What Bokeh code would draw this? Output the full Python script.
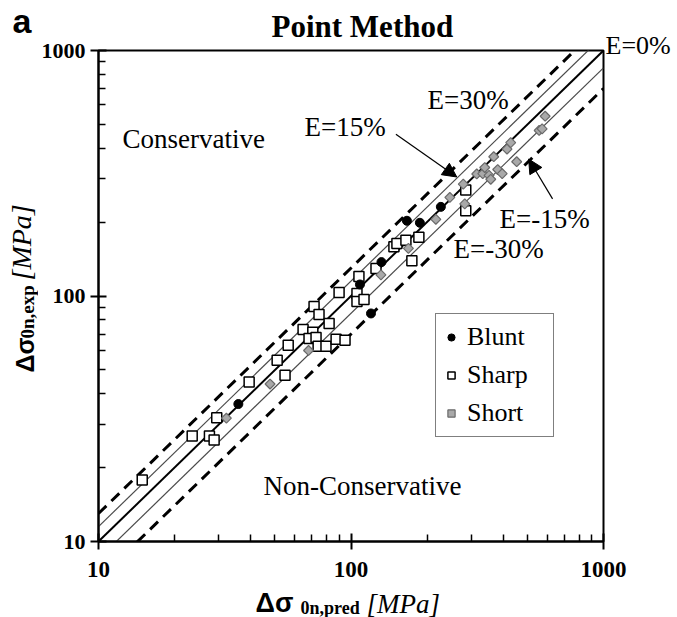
import math
from bokeh.plotting import figure
from bokeh.layouts import row, column
from bokeh.models import Label, Arrow, NormalHead, Legend, LegendItem, FixedTicker, PrintfTickFormatter, Title
from bokeh.embed import file_html
from bokeh.resources import INLINE

# ---------------- data ----------------
blunt_pred = [35.8, 108.5, 120.0, 132.0, 166.5, 187.4, 226.9]
blunt_exp = [36.3, 111.4, 84.9, 137.4, 202.5, 198.7, 230.7]

sharp_pred = [14.9, 23.5, 27.5, 28.7, 29.4, 39.5, 51.0, 54.8, 56.4, 64.6, 70.6,
              68.2, 72.7, 74.1, 79.6, 87.3, 94.7, 71.4, 74.7, 81.9, 89.7, 107.5,
              105.6, 105.6, 112.6, 125.6, 174.2, 147.9, 152.0, 165.0, 185.7,
              284.8, 284.8]
sharp_exp = [17.8, 26.9, 26.9, 25.9, 31.9, 44.6, 54.8, 47.6, 63.0, 73.1, 71.1,
             67.2, 67.8, 62.4, 62.4, 66.6, 66.0, 90.7, 84.1, 77.3, 103.3, 120.0,
             102.3, 95.0, 96.8, 129.3, 139.3, 158.8, 163.8, 168.7, 173.5,
             270.4, 222.3]

short_pred = [32.1, 47.8, 67.9, 131.4, 168.8, 216.8, 246.3, 278.4, 282.2, 314.8,
              332.5, 338.6, 352.2, 357.7, 367.5, 381.1, 397.0, 414.8, 429.0,
              453.1, 556.0, 571.4, 587.3]
short_exp = [31.8, 43.8, 60.0, 121.9, 156.3, 205.3, 252.1, 285.5, 237.3, 314.1,
             314.9, 333.7, 310.2, 298.8, 369.2, 327.5, 314.9, 396.7, 421.5,
             352.4, 472.3, 479.5, 539.9]

# error bands: exp = (1 + E) * pred
error_levels = [0.0, 0.15, -0.15, 0.30, -0.30]
band_x = [10, 1000]

major_ticks = [10, 100, 1000]
minor_ticks = [m * 10 ** k for k in (1, 2) for m in range(2, 10)]

SERIF = "Liberation Serif"
SANS = "Liberation Sans"


def make_label(text, rx, ry, size, font=SERIF, style="normal", align="left", angle=0.0):
    return Label(x=rx, y=ry, x_units="screen", y_units="screen", text=text,
                 text_font=font, text_font_size=f"{size}px",
                 text_font_style=style, text_align=align,
                 text_baseline="middle", angle=angle, text_color="black")


def blank_fig(w, h):
    f = figure(width=w, height=h, x_range=(0, 1), y_range=(0, 1),
               x_axis_location=None, y_axis_location=None,
               output_backend="svg", toolbar_location=None, min_border=0)
    f.outline_line_color = None
    f.grid.visible = False
    f.background_fill_color = "white"
    f.border_fill_color = "white"
    return f


# ---------------- main figure ----------------
p = figure(width=639, height=588, x_axis_type="log", y_axis_type="log",
           x_range=(10, 1000), y_range=(10, 1000),
           output_backend="svg", toolbar_location=None,
           min_border_left=59, min_border_right=74,
           min_border_top=48, min_border_bottom=47)
p.grid.visible = False
p.outline_line_color = "black"
p.outline_line_width = 2
p.background_fill_color = "white"
p.border_fill_color = "white"

p.title = Title(text="Point Method", align="left", offset=173, vertical_align="bottom",
                standoff=13, text_font=SERIF, text_font_size="31px",
                text_font_style="bold", text_color="black")

for ax in (p.xaxis[0], p.yaxis[0]):
    ax.ticker = FixedTicker(ticks=major_ticks, minor_ticks=minor_ticks)
    ax.formatter = PrintfTickFormatter(format="%d")
    ax.major_label_text_font = SERIF
    ax.major_label_text_font_style = "bold"
    ax.major_label_text_font_size = "23px"
    ax.major_label_text_color = "black"
    ax.axis_line_width = 2
    ax.axis_line_color = "black"
    ax.major_tick_line_width = 2
    ax.minor_tick_line_width = 1.5
    ax.major_tick_in = 8
    ax.major_tick_out = 8
    ax.minor_tick_in = 7
    ax.minor_tick_out = 0
p.xaxis.major_label_standoff = 12
p.yaxis.major_label_standoff = 5
p.yaxis.major_label_text_font_size = "22px"

# error lines
for e in error_levels:
    ys = [x * (1 + e) for x in band_x]
    if e == 0:
        p.line(band_x, ys, line_color="black", line_width=2)
    elif abs(e) < 0.2:
        p.line(band_x, ys, line_color="#4a4a4a", line_width=1.2)
    else:
        p.line(band_x, ys, line_color="black", line_width=3, line_dash="11 7")

r_sharp = p.scatter(sharp_pred, sharp_exp, marker="square", size=10,
                    fill_color="white", line_color="black", line_width=1.5)
r_blunt = p.scatter(blunt_pred, blunt_exp, marker="circle", size=9,
                    fill_color="black", line_color="black")
r_short = p.scatter(short_pred, short_exp, marker="square", size=7, angle=math.pi / 4,
                    fill_color="#a9a9a9", line_color="#6a6a6a", line_width=1.2)

legend = Legend(items=[LegendItem(label="Blunt", renderers=[r_blunt]),
                       LegendItem(label="Sharp", renderers=[r_sharp]),
                       LegendItem(label="Short", renderers=[r_short])],
                location=(337, 104))
legend.label_text_font = SERIF
legend.label_text_font_size = "26px"
legend.label_text_color = "black"
legend.border_line_color = "black"
legend.border_line_width = 1.5
legend.background_fill_alpha = 1
legend.padding = 6
legend.margin = 0
legend.spacing = 4
legend.glyph_width = 18
legend.glyph_height = 34
legend.label_height = 34
legend.label_width = 80
legend.label_standoff = 7
p.add_layout(legend, "center")

# arrows
p.add_layout(Arrow(end=NormalHead(size=14, fill_color="black", line_color="black"),
                   x_start=150.6, y_start=456.0, x_end=262.4, y_end=305.3,
                   line_color="black", line_width=1.2))
p.add_layout(Arrow(end=NormalHead(size=14, fill_color="black", line_color="black"),
                   x_start=628.5, y_start=248.7, x_end=505.3, y_end=361.3,
                   line_color="black", line_width=1.2))

# texts inside the frame
p.add_layout(make_label("Conservative", 24, 403, 27))
p.add_layout(make_label("E=15%", 206, 415, 27))
p.add_layout(make_label("E=30%", 329, 442, 27))
p.add_layout(make_label("E=-15%", 401, 323, 27))
p.add_layout(make_label("E=-30%", 355, 293, 27))
p.add_layout(make_label("Non-Conservative", 165, 56, 27))

# E=0% in the right border panel
p.add_layout(make_label("E=0%", 2, 496, 26), "right")

# ---------------- left strip: panel letter and y label ----------------
left = blank_fig(38, 617)
left.add_layout(make_label("a", 12, 597, 34, font=SANS, style="bold"))
left.add_layout(make_label("Δσ", 24, 245, 25, font=SANS, style="bold", angle=math.pi / 2))
left.add_layout(make_label("0n,exp", 27, 279, 19, style="bold", angle=math.pi / 2))
left.add_layout(make_label("[MPa]", 21, 337, 28, style="italic", angle=math.pi / 2))

# ---------------- bottom strip: x label ----------------
bottom = blank_fig(639, 29)
bottom.add_layout(make_label("Δσ", 157, 15, 27, font=SANS, style="bold"))
bottom.add_layout(make_label("0n,pred", 202, 10, 18, style="bold"))
bottom.add_layout(make_label("[MPa]", 268, 14, 27, style="italic"))

layout = row(left, column(p, bottom, spacing=0), spacing=0)

open("out.html", "w").write(file_html(layout, INLINE))
